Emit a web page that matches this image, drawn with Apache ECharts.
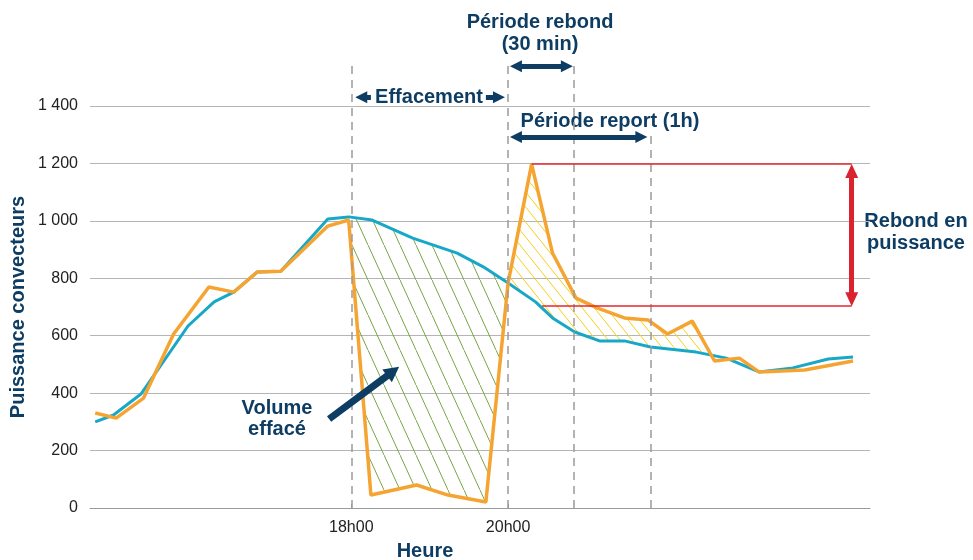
<!DOCTYPE html>
<html>
<head>
<meta charset="utf-8">
<script src="https://cdn.jsdelivr.net/npm/echarts@6/dist/echarts.min.js"></script>
<style>
html, body { margin: 0; padding: 0; background: #fff; }
#chart { width: 973px; height: 560px; }
</style>
</head>
<body>
<div id="chart"></div>
<script>
// temps en minutes par rapport a 18h00
var timeBlue = [-196, -182, -161, -125, -105, -90, -72, -54, -18, -2, 16, 47, 81, 101, 120, 141, 154, 171, 190, 209, 229, 264, 287, 312, 338, 365, 384];
var powerBlue = [300, 324, 397, 634, 718, 752, 822, 825, 1007, 1014, 1003, 940, 888, 840, 784, 718, 662, 613, 582, 582, 561, 543, 522, 474, 488, 519, 526];

var timeOrange = [-196, -180, -159, -136, -109, -90, -72, -54, -18, -2, 15, 50, 74, 103, 120, 138, 154, 172, 188, 209, 227, 242, 261, 278, 297, 312, 347, 384];
var powerOrange = [331, 313, 383, 606, 770, 752, 822, 825, 982, 1003, 45, 80, 45, 21, 784, 1198, 888, 731, 697, 662, 655, 606, 651, 512, 522, 474, 481, 512];

var xTickValues = [0, 120];
var xTickLabels = ['18h00', '20h00'];

// reperes verticaux (debut effacement, fin effacement, fin rebond, fin report)
var markTimes = [0, 120, 170, 229];
var reboundBase = 703;

var NAVY = '#0e3d64';
var BLUE = '#17a8c8';
var ORANGE = '#f6a431';
var RED = '#d9232f';
var FONT = '"Liberation Sans", Arial, sans-serif';
var TITLE = 'bold 20px ' + FONT;

function pairs(t, v) {
    return t.map(function (x, i) { return [x, v[i]]; });
}

function interp(t, v, x) {
    for (var i = 0; i < t.length - 1; i++) {
        if (x >= t[i] && x <= t[i + 1]) {
            return v[i] + (v[i + 1] - v[i]) * (x - t[i]) / (t[i + 1] - t[i]);
        }
    }
    return v[v.length - 1];
}

// zone entre deux courbes, de t0 a t1
function between(tTop, vTop, tBot, vBot, t0, t1) {
    var pts = [[t0, interp(tTop, vTop, t0)]];
    tTop.forEach(function (x, i) { if (x > t0 && x < t1) pts.push([x, vTop[i]]); });
    pts.push([t1, interp(tTop, vTop, t1)]);
    var bot = [[t0, interp(tBot, vBot, t0)]];
    tBot.forEach(function (x, i) { if (x > t0 && x < t1) bot.push([x, vBot[i]]); });
    bot.push([t1, interp(tBot, vBot, t1)]);
    return pts.concat(bot.reverse());
}

// croisement orange / bleu apres le rebond
function crossing(t0) {
    for (var x = t0 + 1; x < 400; x += 0.5) {
        if (interp(timeOrange, powerOrange, x) < interp(timeBlue, powerBlue, x)) return x;
    }
    return 400;
}

function hatch(color, w, h) {
    var c = document.createElement('canvas');
    c.width = w; c.height = h;
    var g = c.getContext('2d');
    g.strokeStyle = color;
    g.lineWidth = 1;
    g.beginPath();
    g.moveTo(-w, -h);
    g.lineTo(2 * w, 2 * h);
    g.stroke();
    return { image: c, repeat: 'repeat' };
}

var zoneGreen = between(timeBlue, powerBlue, timeOrange, powerOrange, -2, 120);
var zoneYellow = between(timeOrange, powerOrange, timeBlue, powerBlue, 120, crossing(120));
var zones = [
    { pts: zoneGreen, fill: hatch('#7aa545', 16, 35) },
    { pts: zoneYellow, fill: hatch('#f6d015', 12, 15) }
];

var peak = Math.max.apply(null, powerOrange);
var peakTime = timeOrange[powerOrange.indexOf(peak)];
var endTime = 383;

function label(x, y, text, rot) {
    return {
        type: 'text', x: x, y: y, rotation: rot || 0,
        style: { text: text, font: TITLE, fill: NAVY, align: 'center', verticalAlign: 'middle' }
    };
}

var chart = echarts.init(document.getElementById('chart'));

chart.setOption({
    animation: false,
    grid: { left: 90, right: 103, top: 63, bottom: 52 },
    xAxis: {
        type: 'value',
        min: -200,
        max: 397,
        axisLine: { show: true, lineStyle: { color: '#9a9a9a', width: 1 } },
        axisTick: { show: true, inside: true, length: 4, customValues: xTickValues, lineStyle: { color: '#9a9a9a' } },
        axisLabel: {
            customValues: xTickValues,
            formatter: function (v) { return xTickLabels[xTickValues.indexOf(v)]; },
            color: '#222', fontSize: 16, fontFamily: FONT, margin: 12
        },
        splitLine: { show: false }
    },
    yAxis: {
        type: 'value',
        min: 0,
        max: 1550,
        interval: 200,
        axisLine: { show: false },
        axisTick: { show: false },
        axisLabel: {
            showMaxLabel: false,
            color: '#222', fontSize: 16, fontFamily: FONT, margin: 12,
            formatter: function (v) { return v >= 1000 ? Math.floor(v / 1000) + ' ' + String(v % 1000).padStart(3, '0') : String(v); }
        },
        splitLine: { show: true, showMaxLine: false, lineStyle: { color: '#b5b5b5', width: 1 } }
    },
    series: [
        {
            type: 'custom',
            name: 'zones',
            silent: true,
            data: [[0, 0], [1, 0]],
            z: 1,
            renderItem: function (params, api) {
                var z = zones[params.dataIndex];
                return {
                    type: 'polygon',
                    shape: { points: z.pts.map(function (p) { return api.coord(p); }) },
                    style: { fill: z.fill, stroke: null }
                };
            }
        },
        {
            type: 'line',
            name: 'reference',
            data: pairs(timeBlue, powerBlue),
            symbol: 'none',
            z: 3,
            lineStyle: { color: BLUE, width: 3 },
            markLine: {
                silent: true,
                symbol: ['none', 'none'],
                label: { show: false },
                lineStyle: { color: '#9a9a9a', width: 1.5, type: [8, 6] },
                data: markTimes.map(function (t, i) {
                    return [{ coord: [t, 0] }, { coord: [t, i === 3 ? 1300 : 1550] }];
                })
            }
        },
        {
            type: 'line',
            name: 'effacement',
            data: pairs(timeOrange, powerOrange),
            symbol: 'none',
            z: 4,
            lineStyle: { color: ORANGE, width: 3.5 },
            markLine: {
                silent: true,
                symbol: ['none', 'none'],
                label: { show: false },
                lineStyle: { color: '#e0282f', width: 1.5, type: 'solid' },
                data: [
                    [{ coord: [peakTime, peak] }, { coord: [endTime, peak] }],
                    [{ coord: [146, reboundBase] }, { coord: [endTime, reboundBase] }]
                ]
            }
        },
        {
            type: 'line',
            name: 'rebond',
            data: [],
            z: 5,
            markLine: {
                silent: true,
                symbol: ['triangle', 'triangle'],
                symbolSize: [13, 14],
                label: { show: false },
                lineStyle: { color: RED, width: 5, type: 'solid' },
                data: [
                    [{ coord: [endTime, peak - 24] }, { coord: [endTime, reboundBase + 24] }]
                ]
            }
        },
        {
            type: 'line',
            name: 'periodes',
            data: [],
            z: 5,
            markLine: {
                silent: true,
                symbol: ['triangle', 'triangle'],
                symbolSize: [12, 12],
                label: { show: false },
                lineStyle: { color: NAVY, width: 5, type: 'solid' },
                data: [
                    [{ coord: [126, 1539] }, { coord: [165, 1539] }],
                    [{ coord: [126, 1292] }, { coord: [222, 1292] }]
                ]
            }
        },
        {
            type: 'line',
            name: 'fleches',
            data: [],
            z: 5,
            markLine: {
                silent: true,
                symbol: ['none', 'triangle'],
                symbolSize: [12, 12],
                label: { show: false },
                lineStyle: { color: NAVY, width: 5, type: 'solid' },
                data: [
                    [{ coord: [15, 1431] }, { coord: [7.6, 1431] }],
                    [{ coord: [103, 1431] }, { coord: [113, 1431] }],
                    [{ coord: [-17, 310], lineStyle: { width: 7 } }, { coord: [32, 476], symbolSize: [16, 15] }]
                ]
            }
        }
    ],
    graphic: [
        label(540, 22, 'Période rebond'),
        label(540, 44, '(30 min)'),
        label(429, 97, 'Effacement'),
        label(610, 121, 'Période report (1h)'),
        label(277, 408, 'Volume'),
        label(277, 429, 'effacé'),
        label(916, 221, 'Rebond en'),
        label(916, 243, 'puissance'),
        label(425, 551, 'Heure'),
        label(18, 307, 'Puissance convecteurs', Math.PI / 2)
    ]
});
</script>
</body>
</html>
